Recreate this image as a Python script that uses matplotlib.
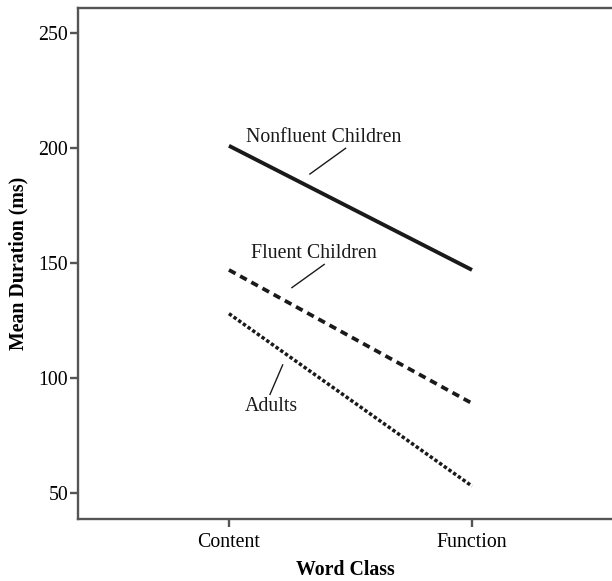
import matplotlib
matplotlib.use("Agg")
import matplotlib.pyplot as plt

categories = ["Content", "Function"]
nonfluent = [201, 147]
fluent = [147, 89]
adults = [128, 53]
yticks = [50, 100, 150, 200, 250]

plt.rcParams['font.family'] = ['Liberation Serif', 'DejaVu Serif']
FS = 14.3

fig = plt.figure(figsize=(6.12, 5.81), dpi=100)
ax = fig.add_axes([78/612, 62/581, 1 - 78/612, (519-8)/581])

x = list(range(len(categories)))
ax.plot(x, nonfluent, color='#1a1a1a', lw=2.8, solid_capstyle='butt')
ax.plot(x, fluent, color='#1a1a1a', lw=2.7, dashes=(2.0, 1.4), dash_capstyle='butt')
ax.plot(x, adults, color='#1a1a1a', lw=2.5, dashes=(1.0, 0.65), dash_capstyle='butt')

ax.set_xlim(-0.621, 1.576)
ax.set_ylim(38.7, 260.9)
ax.set_xticks(x)
ax.set_xticklabels(categories, fontsize=FS)
ax.set_yticks(yticks)
ax.set_yticklabels([str(v) for v in yticks], fontsize=FS)

ax.spines['right'].set_visible(False)
for s in ['left', 'bottom', 'top']:
    ax.spines[s].set_color('#555555')
    ax.spines[s].set_linewidth(1.7)
ax.tick_params(axis='y', direction='out', length=6, width=1.7, color='#555555', pad=1)
ax.tick_params(axis='x', direction='out', length=6, width=1.7, color='#555555', pad=4)

ax.set_xlabel('Word Class', fontsize=FS, fontweight='bold', labelpad=5.5)
ax.set_ylabel('Mean Duration (ms)', fontsize=FS, fontweight='bold', labelpad=7)

lbl = dict(fontsize=FS, ha='center', va='center', color='#1a1a1a')
ax.text(0.391, 204.8, 'Nonfluent Children', **lbl)
ax.plot([0.480, 0.333], [199.9, 188.7], color='#1a1a1a', lw=1.0)
ax.text(0.350, 154.3, 'Fluent Children', **lbl)
ax.plot([0.392, 0.259], [149.4, 139.3], color='#1a1a1a', lw=1.0)
ax.text(0.173, 87.8, 'Adults', **lbl)
ax.plot([0.221, 0.169], [105.7, 92.9], color='#1a1a1a', lw=1.0)

fig.savefig('out.png', dpi=100)
